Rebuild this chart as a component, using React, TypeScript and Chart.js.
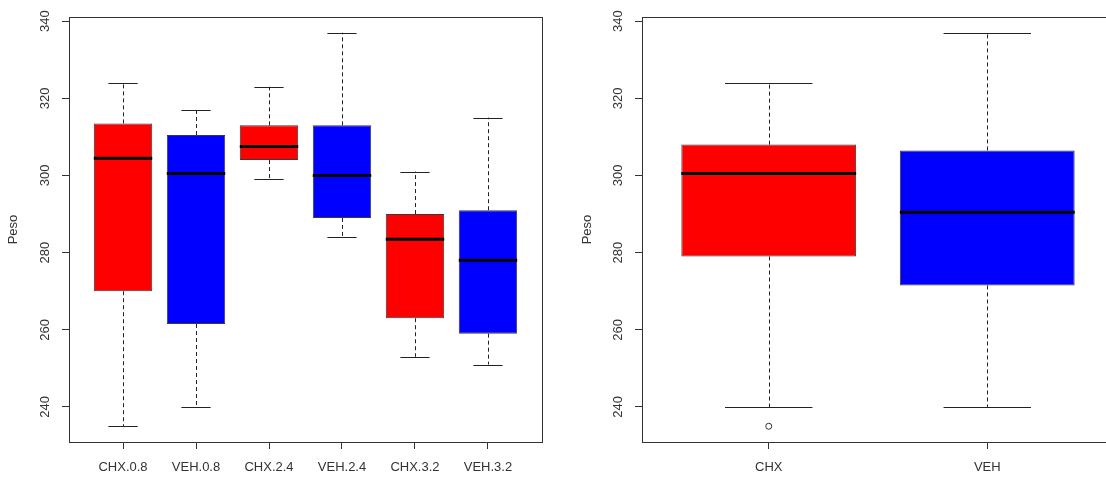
import { useEffect, useRef } from 'react';
import { Chart, registerables } from 'chart.js';

Chart.register(...registerables);

// Weight ("Peso") by treatment and dose
const doseGroups = ['CHX.0.8', 'VEH.0.8', 'CHX.2.4', 'VEH.2.4', 'CHX.3.2', 'VEH.3.2'];
const doseLow = [235, 240, 299, 284, 253, 251];
const doseQ1 = [270, 261.5, 304, 289, 263, 259];
const doseMedian = [304.5, 300.5, 307.5, 300, 283.5, 278];
const doseQ3 = [313.5, 310.5, 313, 313, 290, 291];
const doseHigh = [324, 317, 323, 337, 301, 315];
const doseOutliers: { group: number; value: number }[] = [];

// Weight by treatment, doses pooled
const treatGroups = ['CHX', 'VEH'];
const treatLow = [240, 240];
const treatQ1 = [279, 271.5];
const treatMedian = [300.5, 290.5];
const treatQ3 = [308, 306.5];
const treatHigh = [324, 337];
const treatOutliers = [{ group: 0, value: 235 }];

const yTickValues = [240, 260, 280, 300, 320, 340];
const boxColors = ['#FF0000', '#0000FF'];

const FONT = '"Liberation Sans", Arial, Helvetica, sans-serif';
const INK = '#333333';

type BoxSet = {
  labels: string[];
  low: number[];
  q1: number[];
  med: number[];
  q3: number[];
  high: number[];
  outliers: { group: number; value: number }[];
};

const doseSet: BoxSet = {
  labels: doseGroups,
  low: doseLow,
  q1: doseQ1,
  med: doseMedian,
  q3: doseQ3,
  high: doseHigh,
  outliers: doseOutliers,
};

const treatSet: BoxSet = {
  labels: treatGroups,
  low: treatLow,
  q1: treatQ1,
  med: treatMedian,
  q3: treatQ3,
  high: treatHigh,
  outliers: treatOutliers,
};

// Whiskers, staples, medians and the plot frame, placed from the bar elements and scales
function makeBoxDecor(set: BoxSet) {
  return {
    id: 'boxDecor',
    afterDatasetsDraw(chart: any) {
      const { ctx, chartArea, scales } = chart;
      const y = scales.y;
      const bars = chart.getDatasetMeta(0).data;
      ctx.save();
      set.labels.forEach((_, i) => {
        const bar = bars[i];
        if (!bar) return;
        const cx = bar.x;
        const half = bar.width / 2;
        const cap = half / 2;
        const yLow = y.getPixelForValue(set.low[i]);
        const yQ1 = y.getPixelForValue(set.q1[i]);
        const yQ3 = y.getPixelForValue(set.q3[i]);
        const yHigh = y.getPixelForValue(set.high[i]);
        const yMed = y.getPixelForValue(set.med[i]);

        // dashed whiskers
        ctx.strokeStyle = '#222222';
        ctx.lineWidth = 1;
        ctx.setLineDash([4, 3]);
        ctx.beginPath();
        ctx.moveTo(Math.round(cx) + 0.5, yQ3);
        ctx.lineTo(Math.round(cx) + 0.5, yHigh);
        ctx.moveTo(Math.round(cx) + 0.5, yQ1);
        ctx.lineTo(Math.round(cx) + 0.5, yLow);
        ctx.stroke();

        // staples
        ctx.setLineDash([]);
        ctx.beginPath();
        ctx.moveTo(cx - cap, Math.round(yHigh) + 0.5);
        ctx.lineTo(cx + cap, Math.round(yHigh) + 0.5);
        ctx.moveTo(cx - cap, Math.round(yLow) + 0.5);
        ctx.lineTo(cx + cap, Math.round(yLow) + 0.5);
        ctx.stroke();

        // median
        ctx.strokeStyle = '#000000';
        ctx.lineWidth = 3;
        ctx.beginPath();
        ctx.moveTo(cx - half, yMed);
        ctx.lineTo(cx + half, yMed);
        ctx.stroke();
      });

      // frame around the plotting region
      ctx.strokeStyle = INK;
      ctx.lineWidth = 1;
      ctx.setLineDash([]);
      ctx.strokeRect(
        Math.round(chartArea.left) + 0.5,
        Math.round(chartArea.top) + 0.5,
        Math.round(chartArea.right - chartArea.left),
        Math.round(chartArea.bottom - chartArea.top)
      );
      ctx.restore();
    },
  };
}

function buildConfig(set: BoxSet, yWidth: number, padRight: number): any {
  const n = set.labels.length;
  const allValues = [...set.low, ...set.high, ...set.outliers.map((o) => o.value)];
  const lo = Math.min(...allValues);
  const hi = Math.max(...allValues);
  const yPad = 0.04 * (hi - lo);

  const datasets: any[] = [
    {
      type: 'bar',
      data: set.labels.map((_, i) => ({ x: i + 1, y: [set.q1[i], set.q3[i]] })),
      backgroundColor: set.labels.map((_, i) => boxColors[i % 2]),
      borderColor: '#3a3a3a',
      borderWidth: 1,
      borderSkipped: false,
      barPercentage: 0.8,
      categoryPercentage: 1,
    },
  ];
  if (set.outliers.length) {
    datasets.push({
      type: 'scatter',
      data: set.outliers.map((o) => ({ x: o.group + 1, y: o.value })),
      pointRadius: 3,
      pointBorderWidth: 1,
      pointBorderColor: INK,
      pointBackgroundColor: 'rgba(0,0,0,0)',
      showLine: false,
    });
  }

  const tickFont = { family: FONT, size: 13 };

  return {
    type: 'bar',
    data: { datasets },
    plugins: [makeBoxDecor(set)],
    options: {
      responsive: false,
      animation: false,
      events: [],
      layout: { padding: { top: 17, right: padRight, left: 0, bottom: 0 } },
      plugins: { legend: { display: false }, tooltip: { enabled: false } },
      scales: {
        x: {
          type: 'linear',
          min: 0.5 - 0.04 * n,
          max: n + 0.5 + 0.04 * n,
          offset: false,
          border: { display: false },
          grid: {
            display: true,
            offset: false,
            drawOnChartArea: false,
            drawTicks: true,
            tickLength: 7,
            color: INK,
            lineWidth: 1,
          },
          ticks: {
            autoSkip: false,
            minRotation: 0,
            maxRotation: 0,
            padding: 11,
            color: INK,
            font: tickFont,
            callback: (v: number) => set.labels[Math.round(v) - 1] ?? '',
          },
          afterBuildTicks: (scale: any) => {
            scale.ticks = set.labels.map((_, i) => ({ value: i + 1 }));
          },
          afterFit: (scale: any) => {
            scale.height = 37;
          },
        },
        y: {
          type: 'linear',
          min: lo - yPad,
          max: hi + yPad,
          border: { display: false },
          grid: {
            display: true,
            offset: false,
            drawOnChartArea: false,
            drawTicks: true,
            tickLength: 7,
            color: INK,
            lineWidth: 1,
          },
          ticks: {
            autoSkip: false,
            minRotation: 90,
            maxRotation: 90,
            crossAlign: 'center',
            padding: 5.5,
            color: INK,
            font: tickFont,
          },
          afterBuildTicks: (scale: any) => {
            scale.ticks = yTickValues.map((v) => ({ value: v }));
          },
          afterFit: (scale: any) => {
            scale.width = yWidth;
          },
          title: {
            display: true,
            text: 'Peso',
            color: INK,
            font: { family: FONT, size: 13 },
            padding: { top: 5.5, bottom: 0 },
          },
        },
      },
    },
  };
}

function BoxPanel({ set, left, yWidth, padRight }: { set: BoxSet; left: number; yWidth: number; padRight: number }) {
  const ref = useRef<HTMLCanvasElement | null>(null);
  useEffect(() => {
    if (!ref.current) return;
    const chart = new Chart(ref.current, buildConfig(set, yWidth, padRight));
    return () => chart.destroy();
  }, [set, yWidth, padRight]);
  return (
    <canvas
      ref={ref}
      width={560}
      height={479}
      style={{ position: 'absolute', left, top: 0, width: 560, height: 479 }}
    />
  );
}

export default function App() {
  return (
    <div
      style={{
        position: 'fixed',
        left: 0,
        top: 0,
        width: 1106,
        height: 479,
        overflow: 'hidden',
        background: '#ffffff',
      }}
    >
      <BoxPanel set={doseSet} left={0} yWidth={69} padRight={18} />
      <BoxPanel set={treatSet} left={574} yWidth={68} padRight={20} />
    </div>
  );
}
